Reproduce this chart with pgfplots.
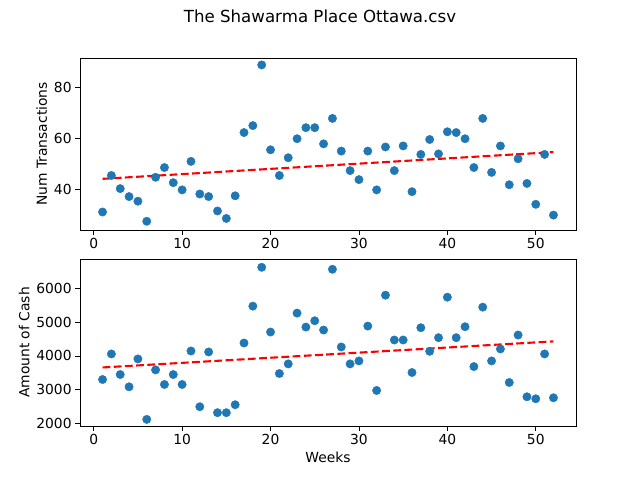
\documentclass[border=0pt]{standalone}
\usepackage{pgfplots}
\pgfplotsset{compat=1.18}
\usepackage{fontspec}
\setmainfont{DejaVu Sans}
\definecolor{mblue}{HTML}{1F77B4}
\pgfplotsset{
  base/.style={scale only axis, width=496bp, xmin=-1.55, xmax=54.55,
    xtick={0,10,20,30,40,50}, tick align=outside, tick pos=left,
    major tick length=4.9bp, every tick/.style={black, line width=0.8bp},
    axis line style={line width=0.8bp},
    /pgf/number format/assume math mode=true,
    tick label style={font=\fontsize{13.9}{16}\selectfont},
    label style={font=\fontsize{13.9}{16}\selectfont},
  },
  mydots/.style={only marks, mark=*, mark size=4.2bp, mark options={draw=mblue, fill=mblue}},
  trend/.style={red, line width=2.1bp, dash pattern=on 7.8bp off 3.4bp, no marks},
}
\begin{document}
\begin{tikzpicture}
\useasboundingbox (0bp,0bp) rectangle (640bp,480bp);
\node at (320bp,464bp) {\fontsize{16.7}{19}\selectfont The Shawarma Place Ottawa.csv};
\begin{axis}[base, at={(80bp,250bp)}, anchor=south west, height=172bp,
  ymin=24.4, ymax=91.3, ytick={40,60,80}, ylabel={Num Transactions}]
\addplot[mydots] coordinates {
(1,31.4)(2,45.6)(3,40.5)(4,37.4)(5,35.6)(6,27.8)(7,44.9)(8,48.7)(9,42.8)(10,40)
(11,51.1)(12,38.4)(13,37.4)(14,31.8)(15,28.9)(16,37.7)(17,62.3)(18,65)(19,88.6)(20,55.6)
(21,45.6)(22,52.5)(23,59.9)(24,64.2)(25,64.2)(26,57.9)(27,67.8)(28,55.1)(29,47.5)(30,44)
(31,55.1)(32,40)(33,56.7)(34,47.5)(35,57.1)(36,39.3)(37,53.8)(38,59.6)(39,54)(40,62.6)
(41,62.3)(42,59.9)(43,48.7)(44,67.8)(45,46.8)(46,57.1)(47,42)(48,52.1)(49,42.5)(50,34.4)
(51,53.8)(52,30.2)};
\addplot[trend] coordinates {(1,44.3)(52,54.7)};
\end{axis}
\begin{axis}[base, at={(80bp,54bp)}, anchor=south west, height=167bp,
  ymin=1931, ymax=6863, ytick={2000,3000,4000,5000,6000},
  scaled y ticks=false, yticklabel style={/pgf/number format/.cd, fixed, 1000 sep={}},
  ylabel={Amount of Cash}, xlabel={Weeks}]
\addplot[mydots] coordinates {
(1,3304)(2,4059)(3,3451)(4,3088)(5,3912)(6,2127)(7,3588)(8,3157)(9,3451)(10,3157)
(11,4147)(12,2500)(13,4118)(14,2324)(15,2324)(16,2559)(17,4382)(18,5471)(19,6618)(20,4706)
(21,3480)(22,3765)(23,5265)(24,4853)(25,5039)(26,4765)(27,6559)(28,4265)(29,3765)(30,3853)
(31,4882)(32,2980)(33,5794)(34,4471)(35,4471)(36,3510)(37,4833)(38,4137)(39,4539)(40,5735)
(41,4539)(42,4863)(43,3686)(44,5441)(45,3853)(46,4206)(47,3216)(48,4618)(49,2794)(50,2735)
(51,4059)(52,2765)};
\addplot[trend] coordinates {(1,3660)(52,4430)};
\end{axis}
\end{tikzpicture}
\end{document}
